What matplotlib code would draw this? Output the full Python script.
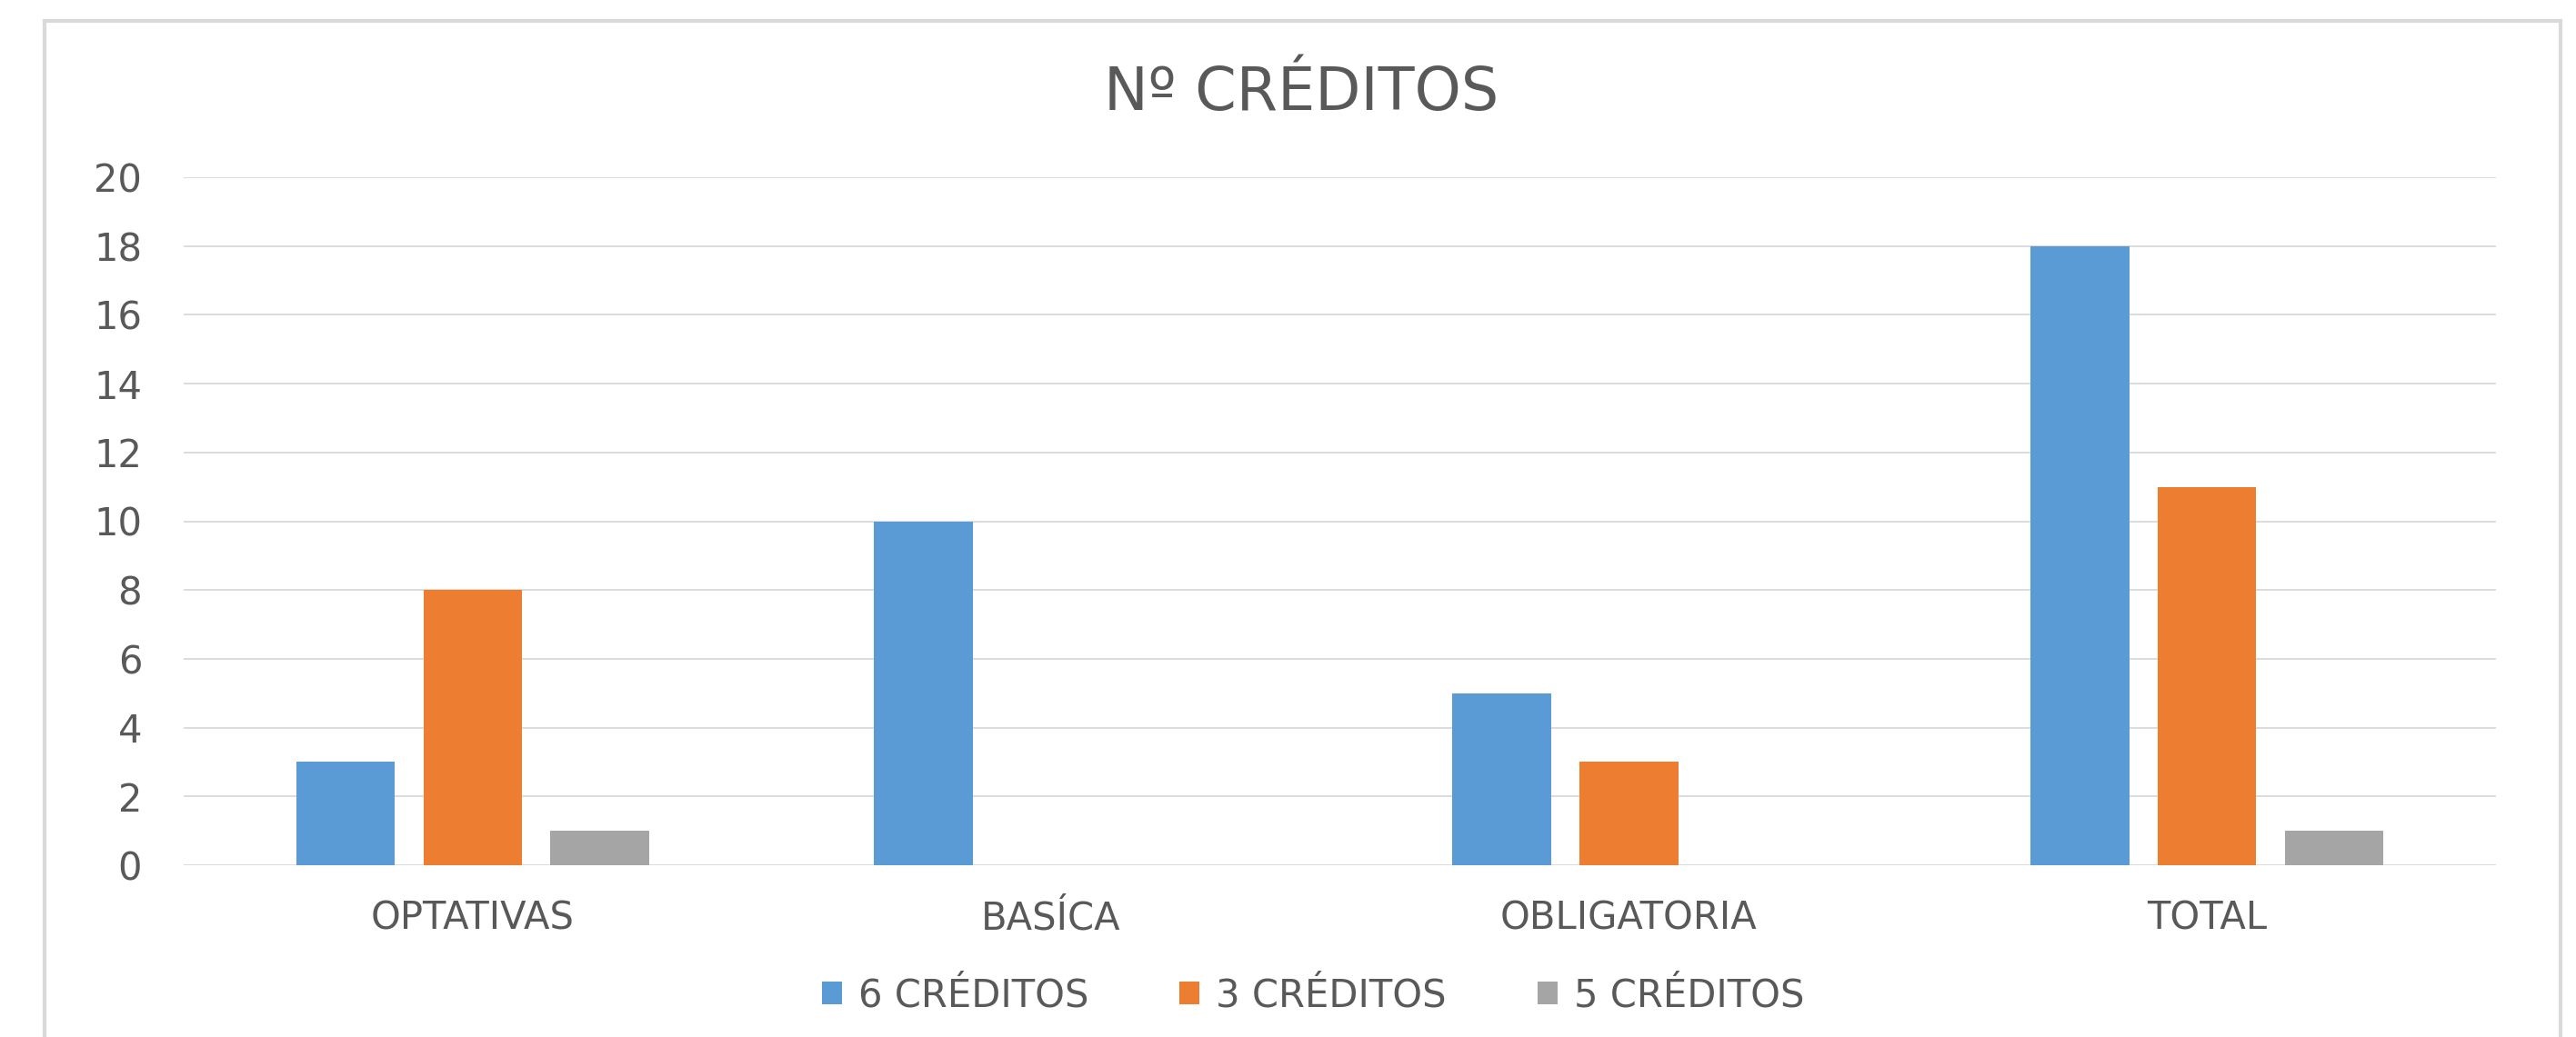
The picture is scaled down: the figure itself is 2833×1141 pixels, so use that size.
import matplotlib
matplotlib.use("Agg")
import matplotlib.pyplot as plt
from matplotlib.patches import Rectangle
import numpy as np

categories = ["OPTATIVAS", "BASÍCA", "OBLIGATORIA", "TOTAL"]
series_names = ["6 CRÉDITOS", "3 CRÉDITOS", "5 CRÉDITOS"]
seis_creditos = [3, 10, 5, 18]
tres_creditos = [8, 0, 3, 11]
cinco_creditos = [1, 0, 0, 1]
y_ticks = [0, 2, 4, 6, 8, 10, 12, 14, 16, 18, 20]
title = "Nº CRÉDITOS"

colors = ["#5B9BD5", "#ED7D31", "#A5A5A5"]
text_color = "#595959"
grid_color = "#D9D9D9"

plt.rcParams['font.family'] = ['DejaVu Sans']

W, H = 2833, 1141
fig = plt.figure(figsize=(W / 100, H / 100), dpi=100)
fig.patch.set_facecolor("white")

# outer chart border
border = Rectangle((49 / W, -0.05), (2816 - 49) / W, 1 - 23 / H + 0.05,
                   transform=fig.transFigure, fill=False,
                   edgecolor=grid_color, linewidth=3, zorder=0)
fig.patches.append(border)

ax = fig.add_axes([202 / W, (H - 952) / H, (2745 - 202) / W, (952 - 195) / H])

x = np.arange(len(categories))
bar_w = 0.171
step = 0.22
for i, (vals, name) in enumerate(zip([seis_creditos, tres_creditos, cinco_creditos], series_names)):
    ax.bar(x + (i - 1) * step, vals, width=bar_w, color=colors[i], label=name, zorder=3)

ax.set_xlim(-0.5, len(categories) - 0.5)
ax.set_ylim(0, 20)
ax.set_yticks(y_ticks)
ax.set_yticklabels([str(t) for t in y_ticks])
ax.set_xticks(x)
ax.set_xticklabels(categories)
ax.tick_params(axis='y', length=0, pad=33, labelsize=30, labelcolor=text_color)
ax.tick_params(axis='x', length=0, pad=27, labelsize=30, labelcolor=text_color)
for s in ax.spines.values():
    s.set_visible(False)
ax.yaxis.grid(True, color=grid_color, linewidth=1.3, zorder=0)
ax.set_axisbelow(True)

fig.text(1431 / W, 1 - 103 / H, title, ha='center', va='center',
         fontsize=47, color=text_color)

handles, labels = ax.get_legend_handles_labels()
leg = fig.legend(handles, labels, loc='center', ncol=3,
                 bbox_to_anchor=(1444 / W, 1 - 1095 / H),
                 frameon=False, fontsize=30, labelcolor=text_color,
                 handlelength=0.53, handleheight=0.53, handletextpad=0.43,
                 columnspacing=2.4)

fig.savefig("out.png", dpi=100, facecolor="white")
